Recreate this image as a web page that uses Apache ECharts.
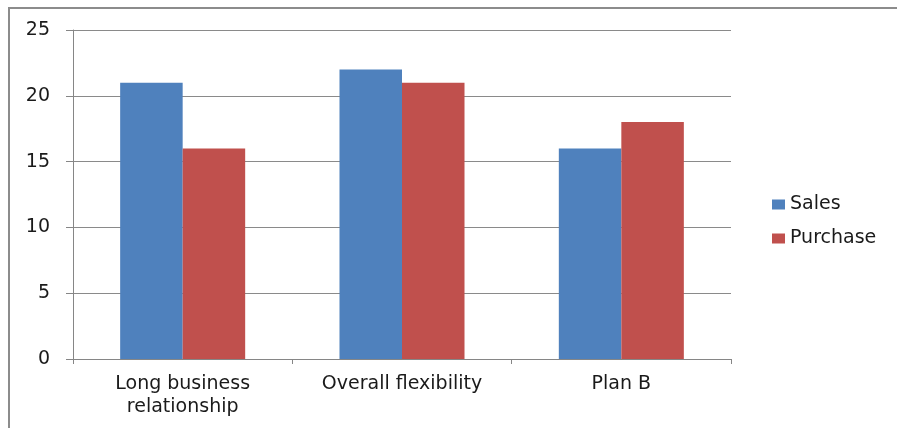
<!DOCTYPE html>
<html>
<head>
<meta charset="utf-8">
<script src="https://cdn.jsdelivr.net/npm/echarts@6/dist/echarts.min.js"></script>
<style>
  html, body { margin: 0; padding: 0; background: #fff; }
  #chart { width: 897px; height: 428px; }
</style>
</head>
<body>
<div id="chart"></div>
<script>
// Categories and values for the two series
const categories = ['Long business\nrelationship', 'Overall flexibility', 'Plan B'];
const salesValues = [21, 22, 16];
const purchaseValues = [16, 21, 18];
const yTicks = [0, 5, 10, 15, 20, 25];

const chart = echarts.init(document.getElementById('chart'));
const labelFont = { fontFamily: 'DejaVu Sans', fontSize: 19, color: '#1a1a1a' };

chart.setOption({
  animation: false,
  backgroundColor: '#fff',
  graphic: [
    {
      type: 'polyline',
      shape: { points: [[9, 430], [9, 8], [900, 8]] },
      style: { stroke: '#8c8c8c', lineWidth: 2, fill: null }
    }
  ],
  grid: { left: 73, right: 166, top: 30, bottom: 69 },
  legend: {
    orient: 'vertical',
    left: 767,
    top: 190,
    padding: [5, 5, 5, 5],
    itemWidth: 13,
    itemHeight: 10,
    itemGap: 15,
    icon: 'rect',
    textStyle: { fontFamily: 'DejaVu Sans', fontSize: 19, color: '#1a1a1a' },
    data: ['Sales', 'Purchase']
  },
  xAxis: {
    type: 'category',
    data: categories,
    axisLine: { lineStyle: { color: '#868686', width: 1 } },
    axisTick: { show: true, length: 5, lineStyle: { color: '#868686' } },
    axisLabel: Object.assign({ margin: 14, lineHeight: 23, interval: 0 }, labelFont)
  },
  yAxis: {
    type: 'value',
    min: yTicks[0],
    max: yTicks[yTicks.length - 1],
    interval: 5,
    axisLine: { show: true, lineStyle: { color: '#868686', width: 1 } },
    axisTick: { show: true, length: 7, lineStyle: { color: '#868686' } },
    splitLine: { lineStyle: { color: '#8a8a8a', width: 1 } },
    axisLabel: Object.assign({ margin: 23 }, labelFont)
  },
  series: [
    {
      name: 'Sales',
      type: 'bar',
      data: salesValues,
      barGap: '0%',
      barCategoryGap: '43%',
      itemStyle: { color: '#4F81BD' }
    },
    {
      name: 'Purchase',
      type: 'bar',
      data: purchaseValues,
      barGap: '0%',
      barCategoryGap: '43%',
      itemStyle: { color: '#C0504D' }
    }
  ]
});
</script>
</body>
</html>
